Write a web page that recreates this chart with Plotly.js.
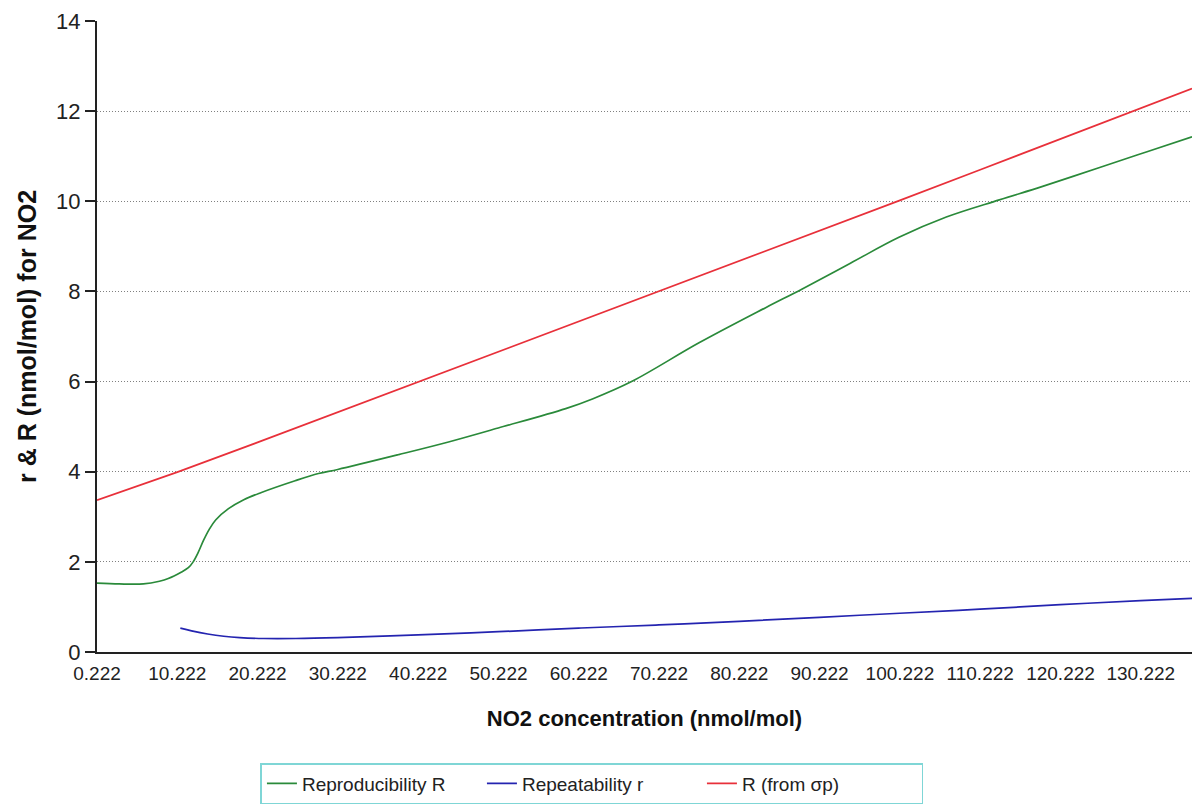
<!DOCTYPE html>
<html>
<head>
<meta charset="utf-8">
<script src="https://cdn.plot.ly/plotly-3.0.1.min.js"></script>
<style>
  html, body { margin: 0; padding: 0; background: #fff; }
  #chart { width: 1192px; height: 810px; }
</style>
</head>
<body>
<div id="chart"></div>
<script>
// NO2 concentration (nmol/mol) sample points
const greenX = [0.222, 3, 6, 8, 9.1, 10.7, 11.6, 12.2, 12.8, 13.5, 14.2, 15, 16.6, 18.5, 20.7, 24.9, 27.8, 30.2, 37.8, 44, 50.2, 58.6, 62, 66.8, 75.2, 83.5, 88, 94, 100.1, 106, 112.6, 118, 125.1, 131, 136.6];
const greenY = [1.53, 1.51, 1.51, 1.57, 1.63, 1.77, 1.87, 2.0, 2.2, 2.48, 2.72, 2.93, 3.18, 3.38, 3.54, 3.8, 3.96, 4.05, 4.38, 4.66, 4.97, 5.4, 5.62, 6.0, 6.86, 7.64, 8.05, 8.62, 9.2, 9.65, 10.03, 10.33, 10.75, 11.1, 11.43];

const blueX = [10.6, 12, 14, 16, 18, 21, 25, 30.2, 40.2, 50.2, 60.2, 70.2, 80.2, 90.2, 100.2, 110.2, 120.2, 130.2, 136.6];
const blueY = [0.53, 0.47, 0.4, 0.35, 0.32, 0.3, 0.3, 0.32, 0.38, 0.45, 0.53, 0.6, 0.68, 0.77, 0.86, 0.95, 1.05, 1.14, 1.19];

const redX = [0.222, 10.222, 20.222, 30.222, 40.222, 50.222, 60.222, 70.222, 80.222, 90.222, 100.222, 110.222, 120.222, 130.222, 136.6];
const redY = [3.37, 3.99, 4.65, 5.32, 6.0, 6.66, 7.33, 8.0, 8.67, 9.35, 10.02, 10.7, 11.38, 12.07, 12.5];

const xTickVals = [0.222, 10.222, 20.222, 30.222, 40.222, 50.222, 60.222, 70.222, 80.222, 90.222, 100.222, 110.222, 120.222, 130.222];
const xTickText = ["0.222", "10.222", "20.222", "30.222", "40.222", "50.222", "60.222", "70.222", "80.222", "90.222", "100.222", "110.222", "120.222", "130.222"];
const yTickVals = [0, 2, 4, 6, 8, 10, 12, 14];

const seriesNames = ["Reproducibility R", "Repeatability r", "R (from \u03c3p)"];

const FONT = "Liberation Sans, Arial, sans-serif";

const traces = [
  { x: greenX, y: greenY, name: seriesNames[0], type: "scatter", mode: "lines",
    line: { color: "#2a8a3a", width: 1.7, shape: "spline", smoothing: 1 } },
  { x: blueX, y: blueY, name: seriesNames[1], type: "scatter", mode: "lines",
    line: { color: "#2424b0", width: 1.7, shape: "spline", smoothing: 1 } },
  { x: redX, y: redY, name: seriesNames[2], type: "scatter", mode: "lines",
    line: { color: "#e8303a", width: 1.7 } }
];

const layout = {
  width: 1192, height: 810,
  margin: { l: 97, r: 0, t: 21, b: 158, pad: 0 },
  paper_bgcolor: "#ffffff", plot_bgcolor: "#ffffff",
  font: { family: FONT, color: "#222" },
  showlegend: true,
  legend: {
    orientation: "h", x: 0.452, xanchor: "center", y: -0.176, yanchor: "top",
    bordercolor: "#7fd6d6", borderwidth: 1.5, bgcolor: "#ffffff",
    font: { family: FONT, size: 19, color: "#222" },
    entrywidth: 175, entrywidthmode: "pixels"
  },
  xaxis: {
    range: [0.222, 136.6], tickmode: "array", tickvals: xTickVals, ticktext: xTickText,
    showgrid: false, zeroline: false, showline: true, linecolor: "#222", linewidth: 2,
    ticks: "outside", ticklen: 3, tickcolor: "rgba(0,0,0,0)",
    tickfont: { family: FONT, size: 19, color: "#222" },
    title: { text: "<b>NO2 concentration (nmol/mol)</b>", font: { family: FONT, size: 22, color: "#111" }, standoff: 28 },
    automargin: false, fixedrange: true
  },
  yaxis: {
    range: [0, 14], tickmode: "array", tickvals: yTickVals,
    showgrid: true, gridcolor: "#808080", gridwidth: 1, griddash: "1px,2px",
    zeroline: false, showline: true, linecolor: "#222", linewidth: 2,
    ticks: "outside", ticklen: 10, tickwidth: 2, tickcolor: "#222",
    tickfont: { family: FONT, size: 22, color: "#222" },
    title: { text: "<b>r & R (nmol/mol) for NO2</b>", font: { family: FONT, size: 25, color: "#111" }, standoff: 12 },
    automargin: false, fixedrange: true
  }
};

Plotly.newPlot("chart", traces, layout, { displayModeBar: false, staticPlot: true });
</script>
</body>
</html>
